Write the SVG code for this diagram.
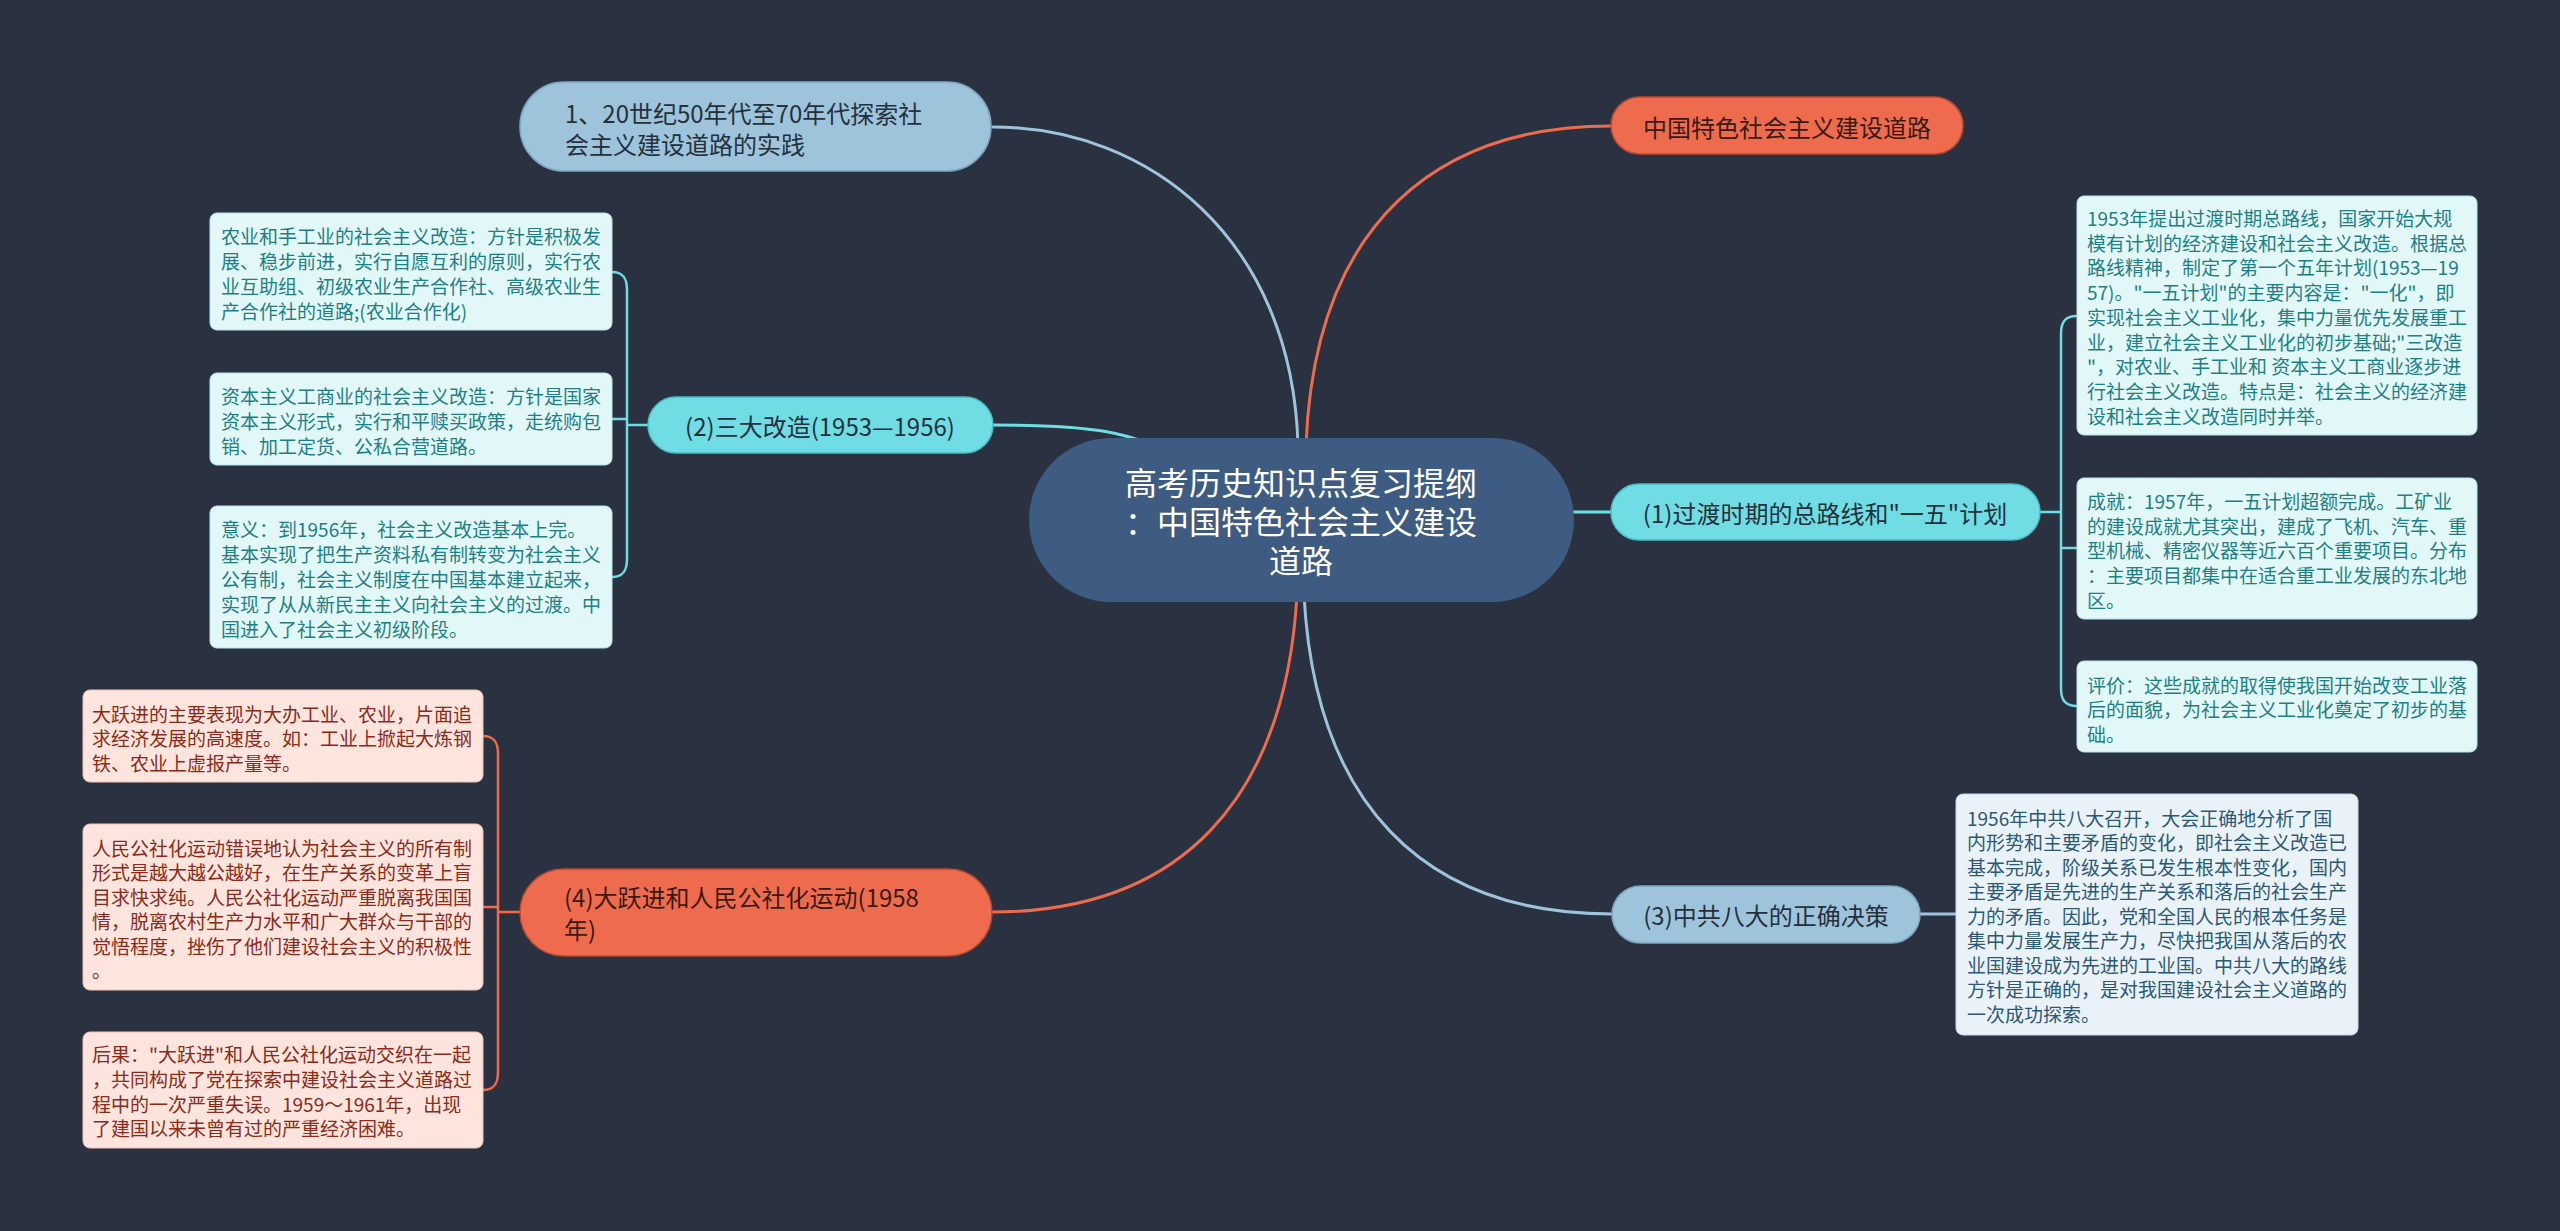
<svg xmlns="http://www.w3.org/2000/svg" width="2560" height="1231" viewBox="0 0 2560 1231">
<style>
text{font-family:"Noto Sans CJK SC","Noto Sans",sans-serif;dominant-baseline:central;}
.root{fill:#3e5b81;}
.rootT{fill:#ffffff;font-size:32px;}
.pBlue{fill:#9ec4dc;stroke:#7ea6c0;stroke-width:1.5;}
.pCyan{fill:#6fdde3;stroke:#4cbcc4;stroke-width:1.5;}
.pOr{fill:#ee6c4d;stroke:#b84a32;stroke-width:1.5;}
.pT{fill:#25303d;font-size:24px;}
.pTo{fill:#3b1a12;font-size:24px;}
.lCyan{fill:#e1f7f8;stroke:#b9e6e9;stroke-width:1;}
.lCyanT{fill:#1f7f86;font-size:19px;}
.lOr{fill:#fde4dc;stroke:#f0c4b6;stroke-width:1;}
.lOrT{fill:#8a2b1b;font-size:19px;}
.lBlue{fill:#e8f2f8;stroke:#c6dbe8;stroke-width:1;}
.lBlueT{fill:#2d5876;font-size:19px;}
.c{fill:none;stroke-width:3;stroke-linecap:round;}
.cb{stroke:#9ec4dc;}
.co{stroke:#ee6c4d;}
.cc{stroke:#6fdde3;}
.br{fill:none;stroke-width:2.5;}
</style>
<rect x="0" y="0" width="2560" height="1231" fill="#2a3140"/>

<g id="connectors">
  <path class="c cb" d="M993,127 C1150,127 1292,240 1298,445"/>
  <path class="c co" d="M1611,126 C1440,126 1315,220 1306,445"/>
  <path class="c cc" d="M993,425 C1090,425 1130,430 1190,462"/>
  <path class="c cc" d="M1570,512 H1611"/>
  <path class="c cb" d="M1304,595 C1315,800 1420,914 1612,914"/>
  <path class="c co" d="M1297,595 C1285,800 1180,912 992,912"/>
  <!-- left cyan bracket -->
  <path class="br cc" d="M612,272 C623,272 627,278 627,290 V559 C627,571 623,577 612,577"/>
  <path class="br cc" d="M612,419 H627"/>
  <path class="br cc" d="M627,425 H648"/>
  <!-- right cyan bracket -->
  <path class="br cc" d="M2077,316 C2065,316 2061,322 2061,334 V688 C2061,700 2065,706 2077,706"/>
  <path class="br cc" d="M2061,548 H2077"/>
  <path class="br cc" d="M2040,512 H2061"/>
  <!-- orange bracket -->
  <path class="br co" d="M483,736 C494,736 498,742 498,754 V1072 C498,1084 494,1090 483,1090"/>
  <path class="br co" d="M483,907 H498"/>
  <path class="br co" d="M498,912 H520"/>
  <!-- (3) to leaf -->
  <path class="c cb" d="M1920,914 H1956"/>
</g>

<g id="root">
  <rect class="root" x="1029" y="438" width="545" height="164" rx="82"/>
  <text class="rootT" text-anchor="middle"><tspan x="1301" y="481">高考历史知识点复习提纲</tspan><tspan x="1301" y="520">：中国特色社会主义建设</tspan><tspan x="1301" y="559">道路</tspan></text>
</g>

<g id="n-explore">
  <rect class="pBlue" x="520" y="82" width="471" height="89" rx="44"/>
  <text class="pT"><tspan x="565" y="112">1、20世纪50年代至70年代探索社</tspan><tspan x="565" y="143">会主义建设道路的实践</tspan></text>
</g>

<g id="n-road">
  <rect class="pOr" x="1611" y="97" width="352" height="57" rx="28.5"/>
  <text class="pTo" x="1787" y="126" text-anchor="middle">中国特色社会主义建设道路</text>
</g>

<g id="n-1">
  <rect class="pCyan" x="1611" y="484" width="429" height="56" rx="28"/>
  <text class="pT" x="1825" y="512" text-anchor="middle">(1)过渡时期的总路线和"一五"计划</text>
</g>

<g id="n-2">
  <rect class="pCyan" x="648" y="397" width="345" height="56" rx="28"/>
  <text class="pT" x="820" y="425" text-anchor="middle">(2)三大改造(1953—1956)</text>
</g>

<g id="n-3">
  <rect class="pBlue" x="1612" y="886" width="308" height="57" rx="28.5"/>
  <text class="pT" x="1766" y="914" text-anchor="middle">(3)中共八大的正确决策</text>
</g>

<g id="n-4">
  <rect class="pOr" x="520" y="869" width="472" height="87" rx="43.5"/>
  <text class="pTo"><tspan x="564" y="896">(4)大跃进和人民公社化运动(1958</tspan><tspan x="564" y="928">年)</tspan></text>
</g>

<g id="leaf-2a">
  <rect class="lCyan" x="210" y="213" width="402" height="117" rx="7"/>
  <text class="lCyanT"><tspan x="221" y="235">农业和手工业的社会主义改造：方针是积极发</tspan><tspan x="221" y="260">展、稳步前进，实行自愿互利的原则，实行农</tspan><tspan x="221" y="285">业互助组、初级农业生产合作社、高级农业生</tspan><tspan x="221" y="310">产合作社的道路;(农业合作化)</tspan></text>
</g>
<g id="leaf-2b">
  <rect class="lCyan" x="210" y="373" width="402" height="92" rx="7"/>
  <text class="lCyanT"><tspan x="221" y="395">资本主义工商业的社会主义改造：方针是国家</tspan><tspan x="221" y="420">资本主义形式，实行和平赎买政策，走统购包</tspan><tspan x="221" y="445">销、加工定货、公私合营道路。</tspan></text>
</g>
<g id="leaf-2c">
  <rect class="lCyan" x="210" y="506" width="402" height="142" rx="7"/>
  <text class="lCyanT"><tspan x="221" y="528">意义：到1956年，社会主义改造基本上完。</tspan><tspan x="221" y="553">基本实现了把生产资料私有制转变为社会主义</tspan><tspan x="221" y="578">公有制，社会主义制度在中国基本建立起来，</tspan><tspan x="221" y="603">实现了从从新民主主义向社会主义的过渡。中</tspan><tspan x="221" y="628">国进入了社会主义初级阶段。</tspan></text>
</g>

<g id="leaf-1a">
  <rect class="lCyan" x="2077" y="196" width="400" height="239" rx="7"/>
  <text class="lCyanT"><tspan x="2087" y="217">1953年提出过渡时期总路线，国家开始大规</tspan><tspan x="2087" y="242">模有计划的经济建设和社会主义改造。根据总</tspan><tspan x="2087" y="266">路线精神，制定了第一个五年计划(1953—19</tspan><tspan x="2087" y="291">57)。"一五计划"的主要内容是："一化"，即</tspan><tspan x="2087" y="316">实现社会主义工业化，集中力量优先发展重工</tspan><tspan x="2087" y="341">业，建立社会主义工业化的初步基础;"三改造</tspan><tspan x="2087" y="365">"，对农业、手工业和 资本主义工商业逐步进</tspan><tspan x="2087" y="390">行社会主义改造。特点是：社会主义的经济建</tspan><tspan x="2087" y="415">设和社会主义改造同时并举。</tspan></text>
</g>
<g id="leaf-1b">
  <rect class="lCyan" x="2077" y="478" width="400" height="141" rx="7"/>
  <text class="lCyanT"><tspan x="2087" y="500">成就：1957年，一五计划超额完成。工矿业</tspan><tspan x="2087" y="525">的建设成就尤其突出，建成了飞机、汽车、重</tspan><tspan x="2087" y="549">型机械、精密仪器等近六百个重要项目。分布</tspan><tspan x="2087" y="574">：主要项目都集中在适合重工业发展的东北地</tspan><tspan x="2087" y="599">区。</tspan></text>
</g>
<g id="leaf-1c">
  <rect class="lCyan" x="2077" y="661" width="400" height="91" rx="7"/>
  <text class="lCyanT"><tspan x="2087" y="684">评价：这些成就的取得使我国开始改变工业落</tspan><tspan x="2087" y="708">后的面貌，为社会主义工业化奠定了初步的基</tspan><tspan x="2087" y="733">础。</tspan></text>
</g>

<g id="leaf-3">
  <rect class="lBlue" x="1956" y="794" width="402" height="241" rx="7"/>
  <text class="lBlueT"><tspan x="1967" y="817">1956年中共八大召开，大会正确地分析了国</tspan><tspan x="1967" y="841">内形势和主要矛盾的变化，即社会主义改造已</tspan><tspan x="1967" y="866">基本完成，阶级关系已发生根本性变化，国内</tspan><tspan x="1967" y="890">主要矛盾是先进的生产关系和落后的社会生产</tspan><tspan x="1967" y="915">力的矛盾。因此，党和全国人民的根本任务是</tspan><tspan x="1967" y="939">集中力量发展生产力，尽快把我国从落后的农</tspan><tspan x="1967" y="964">业国建设成为先进的工业国。中共八大的路线</tspan><tspan x="1967" y="988">方针是正确的，是对我国建设社会主义道路的</tspan><tspan x="1967" y="1013">一次成功探索。</tspan></text>
</g>

<g id="leaf-4a">
  <rect class="lOr" x="83" y="690" width="400" height="92" rx="7"/>
  <text class="lOrT"><tspan x="92" y="713">大跃进的主要表现为大办工业、农业，片面追</tspan><tspan x="92" y="737">求经济发展的高速度。如：工业上掀起大炼钢</tspan><tspan x="92" y="762">铁、农业上虚报产量等。</tspan></text>
</g>
<g id="leaf-4b">
  <rect class="lOr" x="83" y="824" width="400" height="166" rx="7"/>
  <text class="lOrT"><tspan x="92" y="847">人民公社化运动错误地认为社会主义的所有制</tspan><tspan x="92" y="871">形式是越大越公越好，在生产关系的变革上盲</tspan><tspan x="92" y="896">目求快求纯。人民公社化运动严重脱离我国国</tspan><tspan x="92" y="920">情，脱离农村生产力水平和广大群众与干部的</tspan><tspan x="92" y="945">觉悟程度，挫伤了他们建设社会主义的积极性</tspan><tspan x="92" y="969">。</tspan></text>
</g>
<g id="leaf-4c">
  <rect class="lOr" x="83" y="1032" width="400" height="116" rx="7"/>
  <text class="lOrT"><tspan x="92" y="1053">后果："大跃进"和人民公社化运动交织在一起</tspan><tspan x="92" y="1078">，共同构成了党在探索中建设社会主义道路过</tspan><tspan x="92" y="1103">程中的一次严重失误。1959～1961年，出现</tspan><tspan x="92" y="1127">了建国以来未曾有过的严重经济困难。</tspan></text>
</g>
</svg>
